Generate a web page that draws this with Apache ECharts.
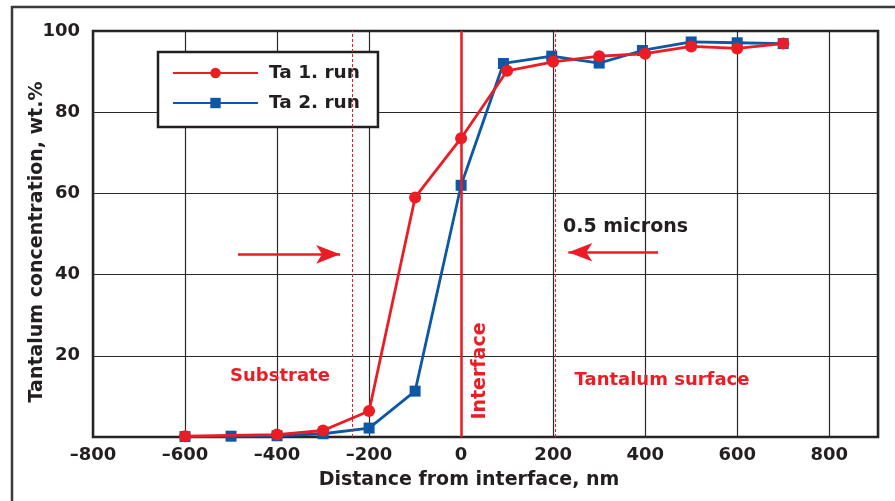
<!DOCTYPE html>
<html>
<head>
<meta charset="utf-8">
<script src="https://cdn.jsdelivr.net/npm/echarts@6/dist/echarts.min.js"></script>
<style>html,body{margin:0;padding:0;background:#fff;}#c{width:895px;height:501px;}</style>
</head>
<body>
<div id="c"></div>
<script>
// ---- data ----
const seriesNames = ['Ta 1. run', 'Ta 2. run'];
const run1X = [-600, -400, -300, -200, -100, 0, 100, 200, 300, 400, 500, 600, 700];
const run1Y = [0.2, 0.6, 1.6, 6.4, 59.0, 73.6, 90.2, 92.4, 93.8, 94.4, 96.2, 95.7, 96.9];
const run2X = [-600, -500, -400, -300, -200, -100, 0, 92, 197, 300, 394, 500, 600, 700];
const run2Y = [0.1, 0.2, 0.3, 0.8, 2.2, 11.3, 62.0, 92.0, 93.8, 92.1, 95.2, 97.3, 97.1, 96.9];
const xTicks = [-800, -600, -400, -200, 0, 200, 400, 600, 800];
const yTicks = [20, 40, 60, 80, 100];
const interfaceX = 0;
const boundaryX = [-237, 204];
const arrowRight = [[-485, 45], [-263, 45]];
const arrowLeft = [[428, 45.5], [233, 45.5]];
const xTitle = 'Distance from interface, nm';
const yTitle = 'Tantalum concentration, wt.%';
const annotations = ['0.5 microns', 'Substrate', 'Tantalum surface', 'Interface'];

const RED = '#ec1c24';
const BLUE = '#0d58a6';
const INK = '#231f20';
const FONT = '"DejaVu Sans", "Liberation Sans", Arial, sans-serif';

const zip = (xs, ys) => xs.map((x, i) => [x, ys[i]]);

const chart = echarts.init(document.getElementById('c'), null, {renderer: 'canvas'});
chart.setOption({
  animation: false,
  backgroundColor: '#fff',
  textStyle: {fontFamily: FONT},
  grid: {left: 93, right: 17, top: 31, bottom: 64, show: true,
         borderColor: INK, borderWidth: 2.5, backgroundColor: '#fff'},
  xAxis: {
    type: 'value', min: -800, max: 906, interval: 200,
    axisLine: {show: false}, axisTick: {show: false},
    splitLine: {show: true, lineStyle: {color: '#2a2a2a', width: 1.2}},
    axisLabel: {
      margin: 9, color: INK, fontSize: 18, fontWeight: 'bold', fontFamily: FONT,
      showMaxLabel: false,
      formatter: v => xTicks.indexOf(v) >= 0 ? String(v).replace('-', '\u2013') : ''
    }
  },
  yAxis: {
    type: 'value', min: 0, max: 100, interval: 20,
    axisLine: {show: false}, axisTick: {show: false},
    splitLine: {show: true, lineStyle: {color: '#2a2a2a', width: 1.2}},
    axisLabel: {
      margin: 13, color: INK, fontSize: 18, fontWeight: 'bold', fontFamily: FONT,
      formatter: v => yTicks.indexOf(v) >= 0 ? String(v) : ''
    }
  },
  legend: {
    data: seriesNames,
    orient: 'vertical', left: 158, top: 52,
    padding: [11, 18, 14, 14],
    itemGap: 10, itemWidth: 85, itemHeight: 13,
    backgroundColor: '#fff', borderColor: INK, borderWidth: 2.5,
    textStyle: {color: INK, fontSize: 18.5, fontWeight: 'bold', fontFamily: FONT,
                lineHeight: 20, padding: [0, 0, 0, 6]}
  },
  series: [
    {
      name: seriesNames[1], type: 'line', data: zip(run2X, run2Y), z: 3,
      symbol: 'rect', symbolSize: 11,
      lineStyle: {color: BLUE, width: 2.8}, itemStyle: {color: BLUE}
    },
    {
      name: seriesNames[0], type: 'line', data: zip(run1X, run1Y), z: 4,
      symbol: 'circle', symbolSize: 12,
      lineStyle: {color: RED, width: 2.8}, itemStyle: {color: RED}
    },
    {
      name: 'guides', type: 'line', data: [], z: 2,
      markLine: {
        silent: true, symbol: ['none', 'none'], label: {show: false},
        animation: false,
        data: [
          [{coord: [interfaceX, 0], lineStyle: {color: RED, width: 2.5, type: 'solid'}}, {coord: [interfaceX, 100]}],
          [{coord: [boundaryX[0], 0], lineStyle: {color: RED, width: 1, type: [3, 2]}}, {coord: [boundaryX[0], 100]}],
          [{coord: [boundaryX[1], 0], lineStyle: {color: RED, width: 1, type: [3, 2]}}, {coord: [boundaryX[1], 100]}]
        ]
      }
    },
    {
      name: 'arrows', type: 'line', data: [], z: 5,
      markLine: {
        silent: true, symbol: ['none', 'arrow'], symbolSize: [14, 24], label: {show: false},
        lineStyle: {color: RED, width: 2.5, type: 'solid'},
        data: [
          [{coord: arrowRight[0]}, {coord: arrowRight[1]}],
          [{coord: arrowLeft[0]}, {coord: arrowLeft[1]}]
        ]
      }
    }
  ],
  graphic: [
    {type: 'rect', silent: true, z: 100,
     shape: {x: 12, y: 7, width: 900, height: 520},
     style: {fill: 'none', stroke: '#3a3a3a', lineWidth: 2.5}},
    {type: 'text', x: 469, y: 480, z: 100,
     style: {text: xTitle, fill: INK, fontSize: 19, fontWeight: 'bold', fontFamily: FONT, align: 'center', verticalAlign: 'middle'}},
    {type: 'text', x: 37, y: 242, rotation: Math.PI / 2, z: 100,
     style: {text: yTitle, fill: INK, fontSize: 19, fontWeight: 'bold', fontFamily: FONT, align: 'center', verticalAlign: 'middle'}},
    {type: 'text', x: 563, y: 227, z: 100,
     style: {text: annotations[0], fill: INK, fontSize: 19, fontWeight: 'bold', fontFamily: FONT, align: 'left', verticalAlign: 'middle'}},
    {type: 'text', x: 280, y: 376, z: 100,
     style: {text: annotations[1], fill: RED, fontSize: 18, fontWeight: 'bold', fontFamily: FONT, align: 'center', verticalAlign: 'middle'}},
    {type: 'text', x: 662, y: 380, z: 100,
     style: {text: annotations[2], fill: RED, fontSize: 18, fontWeight: 'bold', fontFamily: FONT, align: 'center', verticalAlign: 'middle'}},
    {type: 'text', x: 480, y: 371, rotation: Math.PI / 2, z: 100,
     style: {text: annotations[3], fill: RED, fontSize: 19, fontWeight: 'bold', fontFamily: FONT, align: 'center', verticalAlign: 'middle'}}
  ]
});
</script>
</body>
</html>
